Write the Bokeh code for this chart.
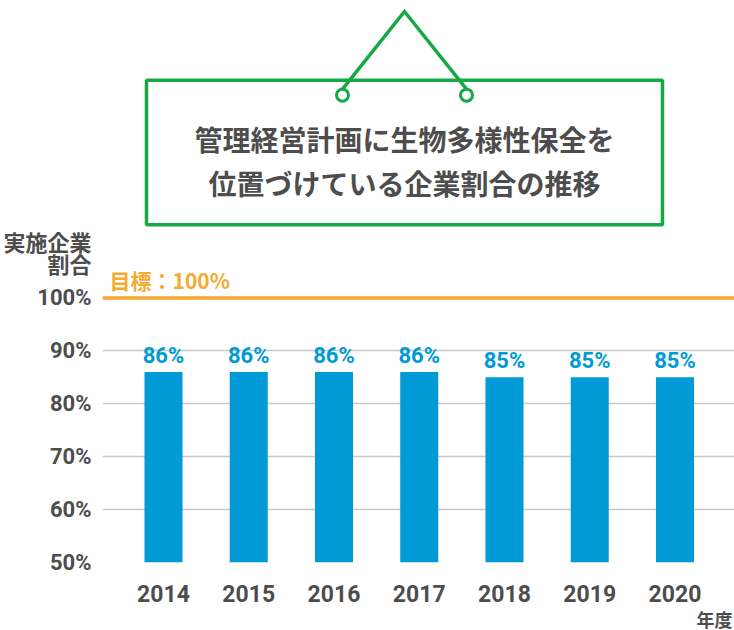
from bokeh.plotting import figure
from bokeh.models import FixedTicker, Label, Span, BoxAnnotation, ColumnDataSource, LabelSet
from bokeh.core.properties import value
from bokeh.embed import file_html
from bokeh.resources import INLINE

# ---- data ----
years = ["2014", "2015", "2016", "2017", "2018", "2019", "2020"]
rates = [86, 86, 86, 86, 85, 85, 85]
rate_labels = ["86%", "86%", "86%", "86%", "85%", "85%", "85%"]
y_ticks = [50, 60, 70, 80, 90, 100]
y_tick_labels = ["50%", "60%", "70%", "80%", "90%", "100%"]
target = 100
target_label = "目標：100%"
title_lines = ["管理経営計画に生物多様性保全を", "位置づけている企業割合の推移"]
y_title = "実施企業\n\u3000\u3000割合"
x_title = "年度"

# ---- style ----
BLUE = "#009ad6"
ORANGE = "#f7a930"
GREEN = "#15a845"
GRAY = "#4d4d4d"
GRID = "#c8c8c8"
NUM_FONT = "Roboto"
JP_FONT = "Noto Sans CJK JP"

W, H = 734, 630
FL, FB = 102, 564          # frame left / bottom (pixels)
FW, FH = W - FL, FB
PX_PER_CAT = 85.25
PX_PER_UNIT = 5.31
X0 = -(163 - FL) / PX_PER_CAT
Y0 = 50

# helpers mapping pixel positions to data coordinates (decoration only)
def dx(px):
    return X0 + (px - FL) / PX_PER_CAT

def dy(py):
    return Y0 + (FB - py) / PX_PER_UNIT

p = figure(width=W, height=H, output_backend="svg", toolbar_location=None,
           x_range=(X0, X0 + FW / PX_PER_CAT), y_range=(Y0, Y0 + FH / PX_PER_UNIT),
           min_border_left=FL, min_border_right=0, min_border_top=0,
           min_border_bottom=H - FB)
p.outline_line_color = None
p.background_fill_color = "white"
p.border_fill_color = "white"

xs = list(range(len(years)))
src = ColumnDataSource(dict(x=xs, top=rates, lab=rate_labels))

p.vbar(x="x", top="top", bottom=Y0, width=0.446, source=src,
       fill_color=BLUE, line_color=None)

p.add_layout(LabelSet(x="x", y="top", text="lab", source=src, y_offset=4,
                      text_align="center", text_baseline="bottom",
                      text_color=BLUE, text_font=value(NUM_FONT),
                      text_font_style="bold", text_font_size="22px"))

# axes
y_title_pos = round(dy(255), 1)
p.xaxis.ticker = FixedTicker(ticks=xs)
p.xaxis.major_label_overrides = {i: y for i, y in zip(xs, years)}
p.yaxis.ticker = FixedTicker(ticks=y_ticks + [y_title_pos])
ov = {t: l for t, l in zip(y_ticks, y_tick_labels)}
ov[y_title_pos] = y_title
p.yaxis.major_label_overrides = ov
for ax in (p.xaxis[0], p.yaxis[0]):
    ax.axis_line_color = None
    ax.major_tick_line_color = None
    ax.minor_tick_line_color = None
    ax.major_label_text_color = GRAY
    ax.major_label_text_font = NUM_FONT + ", " + JP_FONT
    ax.major_label_text_font_style = "bold"
p.xaxis.major_label_text_font_size = "23px"
p.xaxis.major_label_standoff = 16
p.yaxis.major_label_text_font_size = "22px"
p.yaxis.major_label_text_line_height = 0.9
p.yaxis.major_label_standoff = 5

p.xgrid.grid_line_color = None
p.ygrid.ticker = FixedTicker(ticks=y_ticks)
p.ygrid.grid_line_color = GRID
p.ygrid.grid_line_width = 1.5

# target line
p.add_layout(Span(location=target, dimension="width", line_color=ORANGE, line_width=3.5))
p.add_layout(Label(x=dx(109), y=target, y_offset=3, text=target_label,
                   text_align="left", text_baseline="bottom", text_color=ORANGE,
                   text_font=JP_FONT, text_font_style="bold", text_font_size="21px"))

# title sign: triangle hanger, circles, box
p.line(x=[dx(342), dx(404), dx(466)], y=[dy(89), dy(11), dy(89)],
       line_color=GREEN, line_width=3.5, line_join="miter")
p.scatter(x=[dx(342), dx(466)], y=[dy(95), dy(95)], size=12,
          fill_color="white", line_color=GREEN, line_width=3)
p.add_layout(BoxAnnotation(left=dx(146), right=dx(662), top=dy(80), bottom=dy(225),
                           fill_alpha=0, line_color=GREEN, line_alpha=1, line_width=3.5))
for t, py in zip(title_lines, [139, 183]):
    p.add_layout(Label(x=dx(404), y=dy(py), text=t, text_align="center",
                       text_baseline="middle", text_color=GRAY, text_font=JP_FONT,
                       text_font_style="bold", text_font_size="28px"))

# x-axis title, placed in the panel below the frame (screen units of that panel)
p.add_layout(Label(x=W - FL - 2, y=12, x_units="screen", y_units="screen", text=x_title,
                   text_align="right", text_baseline="middle", text_color=GRAY,
                   text_font=JP_FONT, text_font_style="bold", text_font_size="18px"),
             "below")

open("out.html", "w").write(file_html(p, INLINE))
